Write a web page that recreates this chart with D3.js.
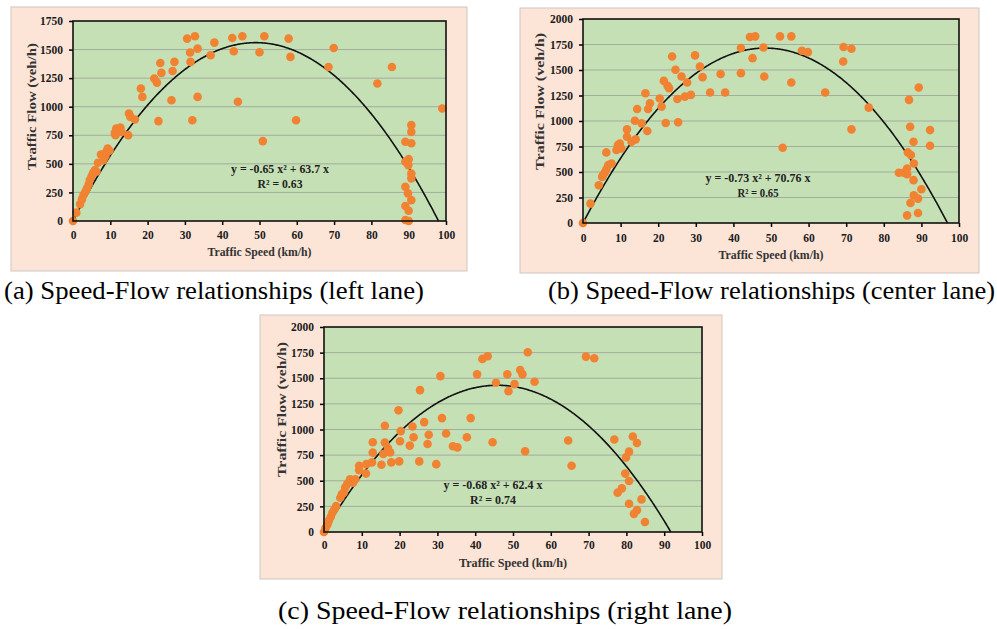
<!DOCTYPE html>
<html>
<head>
<meta charset="utf-8">
<script src="https://cdn.jsdelivr.net/npm/d3@7"></script>
<style>
  html, body { margin: 0; padding: 0; background: #ffffff; }
  svg { display: block; }
  text { font-family: "Liberation Serif", "Times New Roman", Tinos, Times, serif; }
</style>
</head>
<body>
<svg id="chart" width="997" height="629"></svg>
<script>
// ---------------- DATA ----------------
const xTicks = [0, 10, 20, 30, 40, 50, 60, 70, 80, 90, 100];
const yTicksLeft = [0, 250, 500, 750, 1000, 1250, 1500, 1750];
const yTicksCenter = [0, 250, 500, 750, 1000, 1250, 1500, 1750, 2000];
const yTicksRight = [0, 250, 500, 750, 1000, 1250, 1500, 1750, 2000];

// (a) left lane
const leftSpeed = [0, 0.9, 1.9, 2.4, 2.8, 3.3, 3.7, 4.2, 4.5, 5.0, 5.4, 5.9, 6.3, 6.7, 7.5, 8.2, 8.7, 8.9, 9.3, 9.8,
  11.2, 11.4, 11.6, 12.7, 13.0, 14.8, 15.0, 15.4, 16.6, 18.2, 18.6, 21.8, 22.5, 22.9, 23.4, 23.7, 26.4, 26.7, 27.2,
  30.6, 31.4, 31.5, 32.0, 32.7, 33.4, 33.4, 36.9, 37.9, 42.7, 43.1, 44.2, 45.4, 50.0, 50.9, 51.3, 57.8, 58.3, 59.8,
  68.5, 69.9, 81.6, 85.5, 89.1, 89.1, 90.0, 89.9, 89.1, 89.8, 89.1, 90.0, 89.1, 90.0, 90.7, 90.7, 90.7, 90.7, 90.7, 90.7, 99.0];
const leftFlow = [0, 73, 148, 189, 227, 256, 285, 320, 358, 393, 422, 445, 431, 510, 582, 533, 568, 606, 635, 615,
  772, 751, 810, 818, 780, 751, 940, 911, 888, 1159, 1086, 1246, 1211, 874, 1383, 1296, 1057, 1313, 1392,
  1596, 1474, 1392, 882, 1616, 1508, 1086, 1450, 1561, 1601, 1485, 1043, 1616, 1476, 699, 1616, 1596, 1436, 882,
  1348, 1514, 1203, 1348, 693, 518, 541, 489, 300, 242, 131, 90, 9, 0, 839, 780, 680, 416, 373, 183, 985];

// (b) center lane
const centerSpeed = [0, 2.0, 4.2, 5.1, 5.3, 5.8, 6.2, 6.7, 6.2, 7.6, 8.9, 9.3, 9.5, 9.8, 10.2, 11.7, 11.7, 12.9, 14.0,
  13.8, 14.4, 15.6, 17.1, 16.6, 17.3, 17.8, 20.4, 20.9, 21.5, 22.0, 22.5, 22.9, 23.7, 24.6, 25.1, 25.3, 26.2, 27.1,
  27.7, 28.7, 29.8, 31.1, 31.8, 33.8, 36.6, 37.8, 42.0, 42.0, 44.4, 45.8, 45.1, 48.0, 48.2, 52.4, 53.1, 55.4, 55.4,
  58.2, 59.8, 64.4, 69.2, 69.3, 71.4, 71.4, 76.0, 84.0, 85.3, 86.2, 86.2, 86.7, 86.4, 87.2, 87.0, 87.9, 88.0, 87.9,
  88.0, 87.1, 86.2, 89.1, 89.1, 89.3, 90.0, 92.3, 92.3];
const centerFlow = [0, 190, 370, 452, 469, 495, 525, 567, 692, 584, 715, 764, 740, 780, 731, 846, 918, 797, 820,
  1003, 1118, 977, 902, 1272, 1118, 1174, 1220, 1141, 1393, 980, 1344, 1321, 1633, 1502, 1216, 987, 1436, 1239,
  1377, 1256, 1643, 1534, 1430, 1279, 1460, 1279, 1469, 1715, 1823, 1830, 1616, 1721, 1436, 1830, 738, 1830, 1377,
  1689, 1675, 1279, 1584, 1725, 1708, 918, 1131, 492, 492, 534, 479, 1207, 692, 666, 944, 797, 584, 420,
  272, 197, 75, 239, 98, 1328, 331, 911, 757];

// (c) right lane
const rightSpeed = [0, 0.4, 0.9, 1.3, 1.8, 2.2, 2.7, 3.2, 4.3, 4.7, 5.2, 5.6, 6.1, 6.8, 6.9, 7.7, 8.3, 9.3, 9.3, 11.1,
  11.2, 12.7, 12.9, 12.9, 15.2, 15.7, 16.1, 16.1, 16.9, 17.5, 17.8, 19.7, 19.9, 20.1, 20.3, 22.7, 23.4, 23.7, 25.2,
  25.4, 26.5, 27.4, 27.7, 29.7, 30.8, 31.2, 32.3, 34.1, 35.3, 37.8, 38.8, 40.5, 41.9, 43.3, 44.6, 45.5, 48.5, 48.8,
  50.4, 51.9, 52.5, 53.2, 53.9, 55.7, 64.6, 65.5, 69.3, 71.5, 76.8, 77.7, 78.8, 79.7, 79.9, 80.7, 80.7, 80.7, 81.7,
  82.8, 82.0, 82.8, 84.0, 84.9];
const rightFlow = [0, 39, 72, 111, 148, 187, 220, 252, 334, 367, 384, 433, 466, 498, 515, 482, 515, 603, 646, 570,
  662, 679, 774, 875, 656, 761, 872, 1036, 820, 777, 679, 1187, 689, 885, 984, 843, 1030, 925, 689,
  1384, 1072, 859, 948, 662, 1521, 1111, 961, 836, 826, 925, 1111, 1538, 1689, 1715, 875, 1456, 1538, 1374,
  1443, 1580, 1538, 787, 1754, 1466, 892, 646, 1711, 1695, 902, 384, 426, 570, 728, 784, 498, 275, 931,
  869, 177, 213, 318, 98];

// regression coefficients [a, b] for y = a x^2 + b x
const fitLeft = [-0.65, 63.7];
const fitCenter = [-0.73, 70.76];
const fitRight = [-0.68, 62.4];

const eqLeft = ["y = -0.65 x\u00B2 + 63.7 x", "R\u00B2 = 0.63"];
const eqCenter = ["y = -0.73 x\u00B2 + 70.76 x", "R\u00B2 = 0.65"];
const eqRight = ["y = -0.68 x\u00B2 + 62.4 x", "R\u00B2 = 0.74"];

const captions = [
  "(a) Speed-Flow relationships (left lane)",
  "(b) Speed-Flow relationships (center lane)",
  "(c) Speed-Flow relationships (right lane)"
];
const xTitle = "Traffic Speed (km/h)";
const yTitle = "Traffic Flow (veh/h)";

// ---------------- LAYOUT ----------------
const panels = [
  { speed: leftSpeed, flow: leftFlow, fit: fitLeft, eq: eqLeft, yTicks: yTicksLeft, yMax: 1750,
    bg: {x: 11, y: 7, w: 456, h: 264}, plot: {l: 73, t: 21, r: 446, b: 221},
    yTitleX: 32, yTitleY: 106.5, yTitleW: 127, xLabY: 239, xTitleY: 256, xTitleW: 104,
    eqX: 280, eqY: 173, eqW: [98, 45] },
  { speed: centerSpeed, flow: centerFlow, fit: fitCenter, eq: eqCenter, yTicks: yTicksCenter, yMax: 2000,
    bg: {x: 520, y: 8, w: 459, h: 265}, plot: {l: 583, t: 19, r: 959, b: 223},
    yTitleX: 540, yTitleY: 101.5, yTitleW: 137, xLabY: 242, xTitleY: 259, xTitleW: 105,
    eqX: 758, eqY: 182, eqW: [105, 41] },
  { speed: rightSpeed, flow: rightFlow, fit: fitRight, eq: eqRight, yTicks: yTicksRight, yMax: 2000,
    bg: {x: 260, y: 315, w: 462, h: 264}, plot: {l: 324, t: 327, r: 702, b: 532},
    yTitleX: 282, yTitleY: 409.5, yTitleW: 135, xLabY: 549, xTitleY: 567, xTitleW: 108,
    eqX: 493, eqY: 489, eqW: [99, 46] }
];

const svg = d3.select("#chart");

panels.forEach(p => {
  const g = svg.append("g");
  g.append("rect").attr("x", p.bg.x).attr("y", p.bg.y).attr("width", p.bg.w).attr("height", p.bg.h)
    .attr("fill", "#fce4d6").attr("stroke", "#cfc6c0").attr("stroke-width", 1);

  const x = d3.scaleLinear().domain([0, 100]).range([p.plot.l, p.plot.r]);
  const y = d3.scaleLinear().domain([0, p.yMax]).range([p.plot.b, p.plot.t]);

  g.append("rect").attr("x", p.plot.l).attr("y", p.plot.t)
    .attr("width", p.plot.r - p.plot.l).attr("height", p.plot.b - p.plot.t)
    .attr("fill", "#c5e0b4");

  // gridlines
  g.selectAll("line.grid").data(p.yTicks.filter(v => v > 0 && v < p.yMax)).enter()
    .append("line").attr("class", "grid")
    .attr("x1", p.plot.l).attr("x2", p.plot.r)
    .attr("y1", d => y(d)).attr("y2", d => y(d))
    .attr("stroke", "#a3ad9d").attr("stroke-width", 1);

  // axes
  const ya = g.append("g").attr("transform", `translate(${p.plot.l},0)`)
    .call(d3.axisLeft(y).tickValues(p.yTicks).tickSize(4).tickPadding(6).tickFormat(d3.format("d")));
  const xa = g.append("g").attr("transform", `translate(0,${p.plot.b})`)
    .call(d3.axisBottom(x).tickValues(xTicks).tickSize(4).tickPadding(6).tickFormat(d3.format("d")));
  [ya, xa].forEach(a => {
    a.attr("font-family", null);
    a.select(".domain").remove();
    a.selectAll(".tick line").attr("stroke", "#000").attr("stroke-width", 1.5);
    a.selectAll(".tick text").attr("fill", "#1a1a1a")
      .attr("font-weight", "bold").attr("font-size", "11.5px");
  });
  xa.selectAll(".tick text").attr("dy", null).attr("y", p.xLabY - p.plot.b);

  // trend curve
  const root = -p.fit[1] / p.fit[0];
  const xs = d3.range(0, root, 0.25).concat([root]);
  const line = d3.line().x(d => x(d)).y(d => y(Math.max(0, p.fit[0] * d * d + p.fit[1] * d)));
  g.append("path").datum(xs).attr("d", line).attr("fill", "none")
    .attr("stroke", "#111").attr("stroke-width", 1.6);

  // points
  g.selectAll("circle.pt").data(p.speed.map((s, i) => [s, p.flow[i]])).enter()
    .append("circle").attr("class", "pt")
    .attr("cx", d => x(d[0])).attr("cy", d => y(d[1])).attr("r", 4.3)
    .attr("fill", "#f08232");

  // border
  g.append("rect").attr("x", p.plot.l).attr("y", p.plot.t)
    .attr("width", p.plot.r - p.plot.l).attr("height", p.plot.b - p.plot.t)
    .attr("fill", "none").attr("stroke", "#111").attr("stroke-width", 1.6);

  // titles
  g.append("text").attr("x", (p.plot.l + p.plot.r) / 2 - p.xTitleW / 2).attr("y", p.xTitleY)
    .attr("font-weight", "bold").attr("font-size", "12px").attr("fill", "#333")
    .attr("textLength", p.xTitleW).attr("lengthAdjust", "spacingAndGlyphs").text(xTitle);
  g.append("text").attr("transform", `translate(${p.yTitleX + 4},${p.yTitleY + p.yTitleW / 2}) rotate(-90)`)
    .attr("font-weight", "bold").attr("font-size", "12.5px").attr("fill", "#333")
    .attr("textLength", p.yTitleW).attr("lengthAdjust", "spacingAndGlyphs").text(yTitle);

  // equation
  g.append("text").attr("x", p.eqX - p.eqW[0] / 2).attr("y", p.eqY)
    .attr("font-weight", "bold").attr("font-size", "11.5px").attr("fill", "#222")
    .attr("textLength", p.eqW[0]).attr("lengthAdjust", "spacingAndGlyphs").text(p.eq[0]);
  g.append("text").attr("x", p.eqX - p.eqW[1] / 2).attr("y", p.eqY + 14.5)
    .attr("font-weight", "bold").attr("font-size", "11.5px").attr("fill", "#222")
    .attr("textLength", p.eqW[1]).attr("lengthAdjust", "spacingAndGlyphs").text(p.eq[1]);
});

// captions
const capPos = [
  {x: 4, y: 299, w: 420, fs: 25.5},
  {x: 548, y: 299, w: 447, fs: 25.5},
  {x: 278, y: 619, w: 454, fs: 25}
];
captions.forEach((c, i) => {
  svg.append("text").attr("x", capPos[i].x).attr("y", capPos[i].y)
    .attr("font-size", capPos[i].fs + "px").attr("fill", "#000")
    .attr("textLength", capPos[i].w).attr("lengthAdjust", "spacingAndGlyphs")
    .text(c);
});
</script>
</body>
</html>
